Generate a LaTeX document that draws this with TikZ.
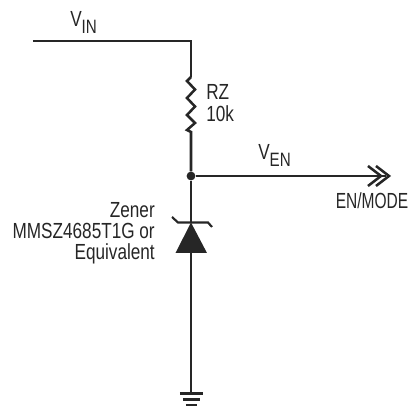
\documentclass[tikz,border=0pt]{standalone}
\usepackage{fontspec}
\setmainfont[FakeStretch=0.785]{Liberation Sans}
\newfontfamily\narrowfam[FakeStretch=0.71]{Liberation Sans}
\begin{document}
\begin{tikzpicture}[x=0.75pt,y=-0.75pt,
  wire/.style={line width=1.9pt,draw=black!85,line join=miter},
  lbl/.style={inner sep=0pt,font=\fontsize{16.4pt}{18pt}\selectfont,text=black!85},
  dot/.style={circle,fill=black!85,inner sep=0pt,minimum size=6.6pt}]
\useasboundingbox (0,0) rectangle (412,406);
\coordinate (in) at (33,41);
\coordinate (corner) at (191,41);
\coordinate (rtop) at (191,77);
\coordinate (rbot) at (191,132);
\node[dot] (j) at (191,176) {};
\coordinate (out) at (386,176);
\coordinate (ztop) at (191,222.5);
\coordinate (zbot) at (191,253);
\coordinate (gnd) at (191,393);
\draw[wire] (in) -- (corner) -- (rtop);
\draw[wire] (rtop) -- (187,81) -- (195,89.5) -- (187,98) -- (195,106.5) -- (187,115) -- (195,123) -- (187,130) -- (rbot) -- (j);
\draw[wire] (j) -- (out);
\draw[wire] (368,166) -- (381,176) -- (368,186);
\draw[wire] (376,166) -- (389,176) -- (376,186);
\draw[wire] (j) -- (ztop);
\fill[black!85] (ztop) -- (207,253) -- (175.5,253) -- cycle;
\draw[wire,line width=1.6pt] (172,217) -- (178,222.5) -- (208,222.5) -- (212,227);
\draw[wire] (zbot) -- (gnd);
\draw[wire] (180,393.5) -- (203,393.5);
\draw[wire] (183,399.5) -- (200,399.5);
\draw[wire] (186,405) -- (197,405);
\node[lbl,anchor=base west] (vin) at (70,27) {V\raisebox{-5pt}{\fontsize{14.5pt}{16pt}\selectfont IN}};
\node[lbl,anchor=base west] (rz) at (206,100) {RZ};
\node[lbl,anchor=base west] (rv) at (206,122) {10k};
\node[lbl,anchor=base west] (ven) at (258,160) {V\raisebox{-5pt}{\fontsize{14.5pt}{16pt}\selectfont EN}};
\node[lbl,anchor=base] (mode) at (372,209) {\narrowfam EN/MODE};
\node[lbl,anchor=base east] (z1) at (155,218) {Zener};
\node[lbl,anchor=base east] (z2) at (155,239) {MMSZ4685T1G or};
\node[lbl,anchor=base east] (z3) at (155,260) {Equivalent};
\end{tikzpicture}
\end{document}
